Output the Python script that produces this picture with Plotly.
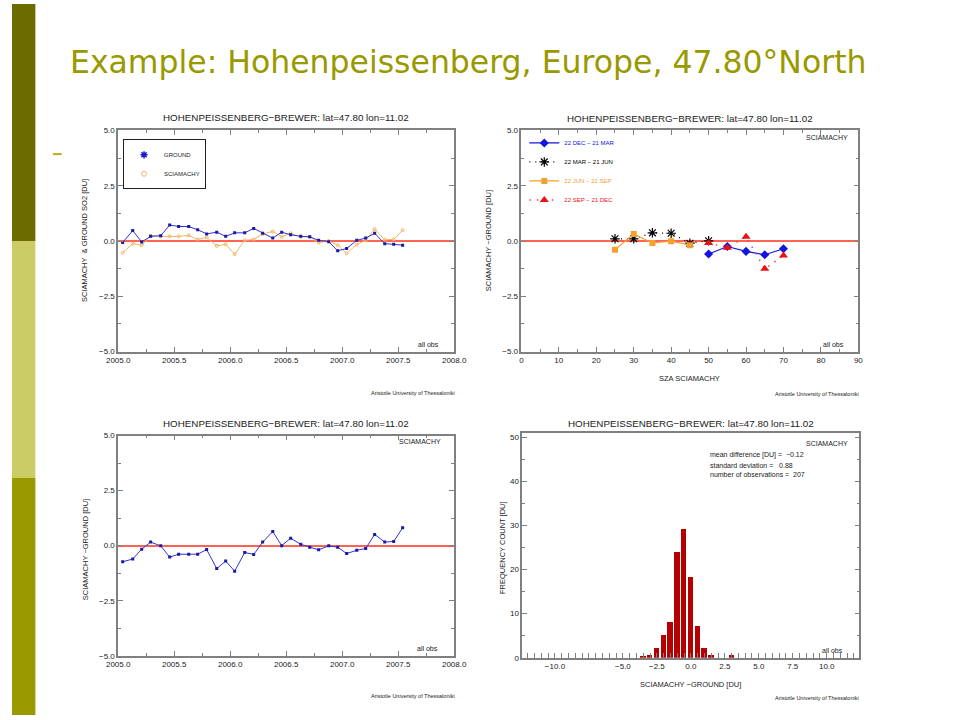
import plotly.graph_objects as go

# ---------------- data ----------------
months = [2005.04, 2005.13, 2005.21, 2005.29, 2005.38, 2005.46, 2005.54, 2005.63,
          2005.71, 2005.79, 2005.88, 2005.96, 2006.04, 2006.13, 2006.21, 2006.29,
          2006.38, 2006.46, 2006.54, 2006.63, 2006.71, 2006.79, 2006.88, 2006.96,
          2007.04, 2007.13, 2007.21, 2007.29, 2007.38, 2007.46, 2007.54]
ground = [-0.07, 0.47, -0.04, 0.21, 0.24, 0.72, 0.66, 0.65, 0.51, 0.32, 0.40,
          0.21, 0.37, 0.37, 0.57, 0.35, 0.13, 0.40, 0.28, 0.21, 0.19, 0.03,
          -0.03, -0.44, -0.34, 0.03, 0.13, 0.35, -0.12, -0.15, -0.19]
sciamachy = [-0.53, -0.12, -0.19, 0.24, 0.21, 0.21, 0.21, 0.25, 0.07, 0.16,
             -0.22, -0.15, -0.60, 0.03, 0.07, 0.32, 0.43, 0.19, 0.35, 0.19,
             0.19, -0.07, 0.00, -0.19, -0.56, -0.16, 0.03, 0.54, 0.06, 0.07, 0.49]
difference = [-0.73, -0.61, -0.16, 0.16, -0.01, -0.52, -0.39, -0.39, -0.39,
              -0.18, -1.04, -0.70, -1.16, -0.31, -0.40, 0.16, 0.64, 0.00, 0.34,
              0.06, -0.07, -0.19, -0.01, -0.07, -0.36, -0.21, -0.13, 0.51, 0.16,
              0.19, 0.81]

sza_dec_mar = [50, 55, 60, 65, 70]
diff_dec_mar = [-0.59, -0.25, -0.47, -0.62, -0.35]
sza_mar_jun = [25, 30, 35, 40, 45, 50]
diff_mar_jun = [0.10, 0.10, 0.37, 0.35, -0.10, 0.01]
sza_jun_sep = [25, 30, 35, 40, 45]
diff_jun_sep = [-0.40, 0.32, -0.09, -0.01, -0.19]
sza_sep_dec = [50, 55, 60, 65, 70]
diff_sep_dec = [-0.09, -0.31, 0.19, -1.26, -0.66]

hist_centers = [-3.5, -3.0, -2.5, -2.0, -1.5, -1.0, -0.5, 0.0, 0.5, 1.0, 1.5, 3.0]
hist_counts = [0.4, 0.8, 2.2, 5.2, 8.1, 24.0, 29.2, 18.4, 7.2, 2.2, 0.8, 0.8]

hist_tickvals = [-10, -5, -2.5, 0, 2.5, 5, 7.5, 10]
hist_ticktext = ["\u221210.0", "\u22125.0", "\u22122.5", "0.0", "2.5", "5.0", "7.5", "10.0"]

station_title = "HOHENPEISSENBERG\u2212BREWER: lat=47.80 lon=11.02"
slide_title = "Example: Hohenpeissenberg, Europe, 47.80\u00b0North"

# ---------------- styling ----------------
W, H = 960, 720
F = "Liberation Sans, Arial, sans-serif"
AXC = "#808080"
TXT = "#222222"
BLUE = "#3434d8"
ORANGE = "#f4b46a"
ZERO = "#ff6452"


def px(x):
    return x / W


def py(y):
    return 1 - y / H


def axis(domain, rng, dtick, minor_dtick, fmt=".1f", minor_len=3, **kw):
    d = dict(domain=domain, range=rng, showline=True, linecolor=AXC, linewidth=1.5,
             mirror="ticks", ticks="inside", ticklen=5, tickcolor=AXC, tickwidth=1,
             showgrid=False, zeroline=False, tickformat=fmt, dtick=dtick, tick0=0,
             tickfont=dict(size=8, color=TXT, family=F),
             minor=dict(ticks="inside", ticklen=minor_len, tickcolor=AXC,
                        dtick=minor_dtick, showgrid=False))
    d.update(kw)
    return d


fig = go.Figure()

# --- Top-left: time series of both ---
fig.add_trace(go.Scatter(x=months, y=sciamachy, mode="lines+markers",
                         line=dict(color=ORANGE, width=1),
                         marker=dict(symbol="circle-open", size=3, color=ORANGE),
                         showlegend=False, xaxis="x", yaxis="y"))
fig.add_trace(go.Scatter(x=months, y=ground, mode="lines+markers",
                         line=dict(color=BLUE, width=1),
                         marker=dict(symbol="square", size=3, color="#1a1aa0"),
                         showlegend=False, xaxis="x", yaxis="y"))
fig.add_trace(go.Scatter(x=[None], y=[None], mode="markers", name="GROUND",
                         marker=dict(symbol="asterisk-open", size=6, color="#1a1ad0",
                                     line=dict(color="#1a1ad0", width=1.5)),
                         legend="legend", xaxis="x", yaxis="y"))
fig.add_trace(go.Scatter(x=[None], y=[None], mode="markers", name="SCIAMACHY",
                         marker=dict(symbol="circle-open", size=5, color=ORANGE),
                         legend="legend", xaxis="x", yaxis="y"))

# --- Top-right: vs SZA by season ---
fig.add_trace(go.Scatter(x=sza_dec_mar, y=diff_dec_mar, mode="lines+markers",
                         name="<span style='color:#1414e0'>22 DEC \u2212 21 MAR</span>",
                         line=dict(color="#1414e0", width=1.2),
                         marker=dict(symbol="diamond", size=7, color="#1414e0"),
                         legend="legend2", xaxis="x2", yaxis="y2"))
fig.add_trace(go.Scatter(x=sza_mar_jun, y=diff_mar_jun, mode="lines+markers",
                         name="<span style='color:#000000'>22 MAR \u2212 21 JUN</span>",
                         line=dict(color="#000000", width=1.3, dash="1px,5px"),
                         marker=dict(symbol="asterisk-open", size=8, color="#000000",
                                     line=dict(color="#000000", width=1.2)),
                         legend="legend2", xaxis="x2", yaxis="y2"))
fig.add_trace(go.Scatter(x=sza_jun_sep, y=diff_jun_sep, mode="lines+markers",
                         name="<span style='color:#f5a030'>22 JUN \u2212 21 SEP</span>",
                         line=dict(color="#f5a030", width=1.2),
                         marker=dict(symbol="square", size=6, color="#f5a030"),
                         legend="legend2", xaxis="x2", yaxis="y2"))
fig.add_trace(go.Scatter(x=sza_sep_dec, y=diff_sep_dec, mode="lines+markers",
                         name="<span style='color:#ee1010'>22 SEP \u2212 21 DEC</span>",
                         line=dict(color="#f04040", width=1.5, dash="1.5px,6px"),
                         marker=dict(symbol="triangle-up", size=8, color="#ee1010"),
                         legend="legend2", xaxis="x2", yaxis="y2"))

# --- Bottom-left: difference time series ---
fig.add_trace(go.Scatter(x=months, y=difference, mode="lines+markers",
                         line=dict(color=BLUE, width=1),
                         marker=dict(symbol="square", size=3, color="#1a1aa0"),
                         showlegend=False, xaxis="x3", yaxis="y3"))

# --- Bottom-right: histogram ---
fig.add_trace(go.Bar(x=hist_centers, y=hist_counts, width=0.4,
                     marker=dict(color="#b40000", line=dict(width=0)),
                     showlegend=False, xaxis="x4", yaxis="y4"))

TLx = [px(109), px(454)]
TRx = [px(523), px(869)]
Ty = [py(352), py(128)]
BLx = [px(109), px(454)]
BLy = [py(660), py(437)]
BRx = [px(524), px(870)]
BRy = [py(662), py(434)]

layout = dict(
    width=W, height=H, margin=dict(l=0, r=0, t=0, b=0),
    paper_bgcolor="white", plot_bgcolor="white",
    xaxis=axis(TLx, [2005.0, 2008.0], 0.5, 0.25, anchor="y"),
    yaxis=axis(Ty, [-5, 5], 2.5, 1.25, anchor="x", zeroline=True,
               zerolinecolor=ZERO, zerolinewidth=2),
    xaxis2=axis(TRx, [0, 90], 10, 5, fmt="d", anchor="y2"),
    yaxis2=axis(Ty, [-5, 5], 2.5, 1.25, anchor="x2", zeroline=True,
                zerolinecolor=ZERO, zerolinewidth=2),
    xaxis3=axis(BLx, [2005.0, 2008.0], 0.5, 0.25, anchor="y3"),
    yaxis3=axis(BLy, [-5, 5], 2.5, 1.25, anchor="x3", zeroline=True,
                zerolinecolor=ZERO, zerolinewidth=2),
    xaxis4=axis(BRx, [-12.4, 12.4], None, 0.5, minor_len=5, anchor="y4",
                tickmode="array", tickvals=hist_tickvals, ticktext=hist_ticktext,
                mirror=True),
    yaxis4=axis(BRy, [0, 51.1], 10, 5, fmt="d", anchor="x4"),
    legend=dict(x=px(114), y=py(137), xanchor="left", yanchor="top",
                bordercolor="#222222", borderwidth=1, bgcolor="white",
                font=dict(size=6, color=TXT, family=F),
                itemwidth=30, tracegroupgap=0),
    legend2=dict(x=px(526), y=py(126), xanchor="left", yanchor="top",
                 borderwidth=0, bgcolor="rgba(0,0,0,0)",
                 font=dict(size=6, color=TXT, family=F),
                 itemwidth=30, tracegroupgap=0),
    bargap=0,
)
fig.update_layout(**layout)

# ---- side bar and bullet dash ----
shapes = [
    dict(type="rect", xref="paper", yref="paper", x0=0, x1=px(24), y0=py(240), y1=py(0),
         fillcolor="#6b6b00", line=dict(width=0), layer="below"),
    dict(type="rect", xref="paper", yref="paper", x0=0, x1=px(24), y0=py(480), y1=py(240),
         fillcolor="#cccc66", line=dict(width=0), layer="below"),
    dict(type="rect", xref="paper", yref="paper", x0=0, x1=px(24), y0=py(720), y1=py(480),
         fillcolor="#999900", line=dict(width=0), layer="below"),
    dict(type="line", xref="paper", yref="paper", x0=px(42), x1=px(51), y0=py(152),
         y1=py(152), line=dict(color="#c8a820", width=2)),
]
fig.update_layout(shapes=shapes)


def txt(x, y, s, size=8, xa="center", ya="middle", color=TXT, family=F, angle=0):
    fig.add_annotation(x=px(x), y=py(y), xref="paper", yref="paper", text=s,
                       showarrow=False, xanchor=xa, yanchor=ya, textangle=angle,
                       font=dict(size=size, color=color, family=family))


# slide title
txt(58, 59, slide_title, size=31.5, xa="left", color="#999900", family="DejaVu Sans")

# panel titles
for cx, cy in [(281, 115), (696, 116), (281, 425), (697, 425)]:
    txt(cx, cy, station_title, size=9.8)

# TL
txt(440, 345, "all obs", size=7, xa="right")
txt(457, 394, "Aristotle University of Thessaloniki", size=5.5, xa="right")
txt(75, 240, "SCIAMACHY  & GROUND SO2 [DU]", size=7.5, angle=-90)
# TR
txt(860, 135, "SCIAMACHY", size=7, xa="right")
txt(856, 345, "all obs", size=7, xa="right")
txt(696, 379, "SZA SCIAMACHY", size=7.5)
txt(872, 395, "Aristotle University of Thessaloniki", size=5.5, xa="right")
txt(490, 240, "SCIAMACHY \u2212GROUND [DU]", size=7.5, angle=-90)
# BL
txt(443, 443, "SCIAMACHY", size=7, xa="right")
txt(439, 653, "all obs", size=7, xa="right")
txt(457, 701, "Aristotle University of Thessaloniki", size=5.5, xa="right")
txt(75, 553, "SCIAMACHY \u2212GROUND [DU]", size=7.5, angle=-90)
# BR
txt(860, 445, "SCIAMACHY", size=7, xa="right")
txt(715, 457, "mean difference [DU] =  \u22120.12", size=7, xa="left")
txt(715, 467, "standard deviation =   0.88", size=7, xa="left")
txt(715, 476, "number of observations =  207", size=7, xa="left")
txt(855, 655, "all obs", size=7, xa="right")
txt(697, 689, "SCIAMACHY \u2212GROUND [DU]", size=7.5)
txt(872, 703, "Aristotle University of Thessaloniki", size=5.5, xa="right")
txt(503, 550, "FREQUENCY COUNT [DU]", size=7.5, angle=-90)

fig.write_html("out.html", config={"displayModeBar": False},
               post_script="document.body.style.margin='0';"
                           "document.body.style.overflow='hidden';")
